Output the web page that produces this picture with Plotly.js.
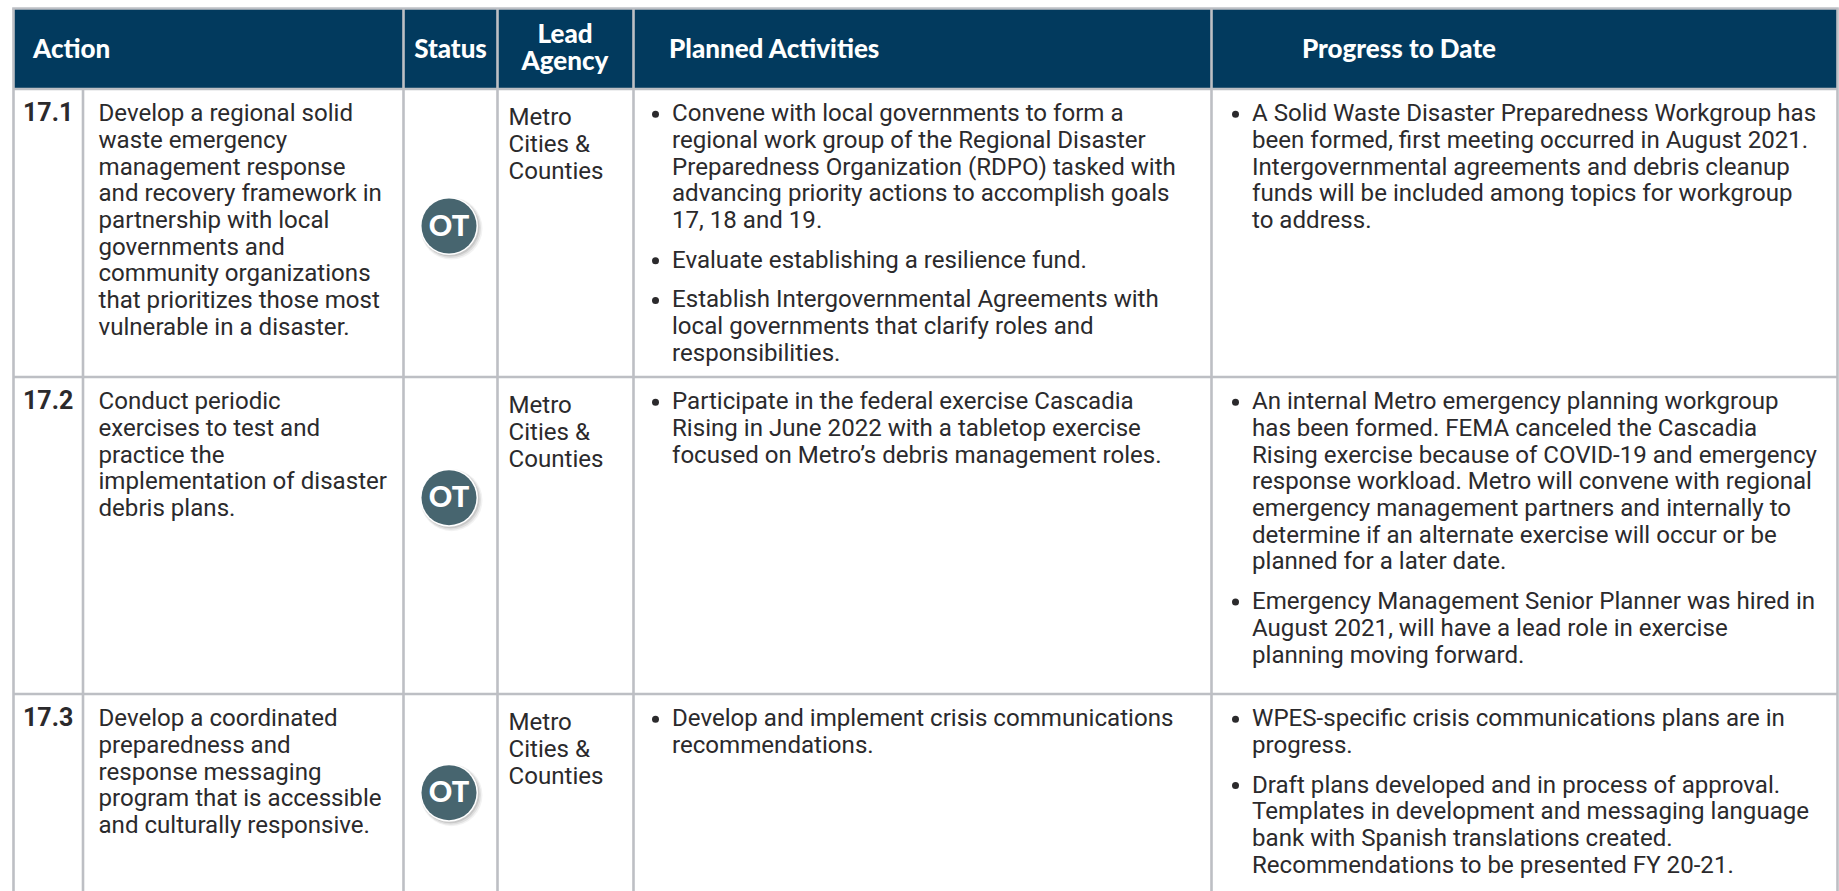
<!DOCTYPE html>
<html>
<head>
<meta charset="utf-8">
<script src="https://cdn.plot.ly/plotly-3.0.1.min.js"></script>
<style>html,body{margin:0;padding:0;background:#fff;overflow:hidden}#chart{width:1839px;height:891px}</style>
</head>
<body>
<div id="chart"></div>
<script>
// ---- table content ----
const actionIds = ['17.1', '17.2', '17.3'];
const statusCodes = ['OT', 'OT', 'OT'];
const headerAction = 'Action';
const headerStatus = 'Status';
const headerLead = ['Lead', 'Agency'];
const headerPlanned = 'Planned Activities';
const headerProgress = 'Progress to Date';
const leadAgencyLines = ['Metro', 'Cities &', 'Counties'];
const actionLines = [
  ['Develop a regional solid', 'waste emergency', 'management response', 'and recovery framework in', 'partnership with local', 'governments and', 'community organizations', 'that prioritizes those most', 'vulnerable in a disaster.'],
  ['Conduct periodic', 'exercises to test and', 'practice the', 'implementation of disaster', 'debris plans.'],
  ['Develop a coordinated', 'preparedness and', 'response messaging', 'program that is accessible', 'and culturally responsive.']
];
const plannedBullets = [
  [
    ['Convene with local governments to form a', 'regional work group of the Regional Disaster', 'Preparedness Organization (RDPO) tasked with', 'advancing priority actions to accomplish goals', '17, 18 and 19.'],
    ['Evaluate establishing a resilience fund.'],
    ['Establish Intergovernmental Agreements with', 'local governments that clarify roles and', 'responsibilities.']
  ],
  [
    ['Participate in the federal exercise Cascadia', 'Rising in June 2022 with a tabletop exercise', 'focused on Metro\u2019s debris management roles.']
  ],
  [
    ['Develop and implement crisis communications', 'recommendations.']
  ]
];
const progressBullets = [
  [
    ['A Solid Waste Disaster Preparedness Workgroup has', 'been formed, first meeting occurred in August 2021.', 'Intergovernmental agreements and debris cleanup', 'funds will be included among topics for workgroup', 'to address.']
  ],
  [
    ['An internal Metro emergency planning workgroup', 'has been formed. FEMA canceled the Cascadia', 'Rising exercise because of COVID-19 and emergency', 'response workload. Metro will convene with regional', 'emergency management partners and internally to', 'determine if an alternate exercise will occur or be', 'planned for a later date.'],
    ['Emergency Management Senior Planner was hired in', 'August 2021, will have a lead role in exercise', 'planning moving forward.']
  ],
  [
    ['WPES-specific crisis communications plans are in', 'progress.'],
    ['Draft plans developed and in process of approval.', 'Templates in development and messaging language', 'bank with Spanish translations created.', 'Recommendations to be presented FY 20-21.']
  ]
];

// ---- layout of the table ----
const W = 1839, H = 891;
const colX = {left: 13.5, id: 83, status: 403.5, lead: 497.5, planned: 633.5, progress: 1211.5, right: 1837.5};
const tableTop = 8.5, headBottom = 89, rowTops = [89, 377, 694];
const badgeY = [226, 497.7, 792.7], badgeX = 449;
const lineH = 26.7, paraGap = 13, firstOffset = 23.7, leadOffset = 27.7, textDy = 2.5;
const navy = '#023a5e', grid = '#bdbfc4', ink = '#2b2a2c', badge = '#47656f';
const bodyFont = 'Roboto', headFont = 'Lato';
const bodySize = 24.1, headSize = 26;

function textTrace(pts, font, pos) {
  return {type: 'scatter', mode: 'text', x: pts.map(p => p[0]), y: pts.map(p => p[1] + textDy), text: pts.map(p => p[2]),
    textposition: pos || 'middle right', textfont: font, hoverinfo: 'skip', showlegend: false, cliponaxis: false};
}
const bodyPts = [], idPts = [], bulletPts = [], headLeft = [], headCenter = [], badgeText = [];
rowTops.forEach((t, r) => {
  idPts.push([23, t + firstOffset, actionIds[r]]);
  actionLines[r].forEach((s, i) => bodyPts.push([98.5, t + firstOffset + i * lineH, s]));
  leadAgencyLines.forEach((s, i) => bodyPts.push([508.5, t + leadOffset + i * lineH, s]));
  [[plannedBullets[r], 655.5, 672], [progressBullets[r], 1235.5, 1252]].forEach(([paras, bx, tx]) => {
    let y = t + firstOffset;
    paras.forEach(lines => {
      bulletPts.push([bx, y]);
      lines.forEach(s => { bodyPts.push([tx, y, s]); y += lineH; });
      y += paraGap;
    });
  });
  badgeText.push([badgeX, badgeY[r], statusCodes[r]]);
});
headLeft.push([33, 48.5, headerAction], [669, 48.5, headerPlanned], [1302, 48.5, headerProgress]);
headCenter.push([450.5, 48.5, headerStatus], [565, 34, headerLead[0]], [565, 60.5, headerLead[1]]);

const marker = (dx, dy, size, color) => ({type: 'scatter', mode: 'markers', x: badgeY.map(() => badgeX + dx), y: badgeY.map(v => v + dy),
  marker: {size, color, line: {width: 0}}, hoverinfo: 'skip', showlegend: false, cliponaxis: false});

const traces = [
  marker(2.5, 2.5, 62, 'rgba(0,0,0,0.05)'),
  marker(2, 2, 60, 'rgba(0,0,0,0.08)'),
  marker(1.5, 1.5, 58, 'rgba(0,0,0,0.10)'),
  marker(0, 0, 58, '#ffffff'),
  marker(0, 0, 55, badge),
  {type: 'scatter', mode: 'markers', x: bulletPts.map(p => p[0]), y: bulletPts.map(p => p[1] + 1.5), marker: {size: 7, color: ink}, hoverinfo: 'skip', showlegend: false},
  textTrace(bodyPts, {family: bodyFont, size: bodySize, color: ink}),
  textTrace(idPts, {family: bodyFont, size: 25, color: ink, weight: 700}),
  textTrace(headLeft, {family: headFont, size: headSize, color: '#ffffff', weight: 900}),
  textTrace(headCenter, {family: headFont, size: headSize, color: '#ffffff', weight: 900}, 'middle center'),
  textTrace(badgeText, {family: headFont, size: 29, color: '#ffffff', weight: 900}, 'middle center')
];

const vline = (x, y0, y1) => ({type: 'line', xref: 'x', yref: 'y', x0: x, x1: x, y0, y1, line: {color: grid, width: 2.6}, layer: 'above'});
const hline = (y, x0, x1) => ({type: 'line', xref: 'x', yref: 'y', x0, x1, y0: y, y1: y, line: {color: grid, width: 2.6}, layer: 'above'});
const shapes = [
  {type: 'rect', xref: 'x', yref: 'y', x0: colX.left, x1: colX.right, y0: tableTop, y1: headBottom, fillcolor: navy, line: {width: 0}, layer: 'below'},
  hline(tableTop, colX.left - 1.3, colX.right + 1.3), hline(headBottom, colX.left, colX.right),
  hline(rowTops[1], colX.left, colX.right), hline(rowTops[2], colX.left, colX.right),
  vline(colX.left, tableTop, H), vline(colX.id, headBottom, H), vline(colX.status, tableTop, H), vline(colX.lead, tableTop, H),
  vline(colX.planned, tableTop, H), vline(colX.progress, tableTop, H), vline(colX.right, tableTop, H)
];

Plotly.newPlot('chart', traces, {
  width: W, height: H, margin: {l: 0, r: 0, t: 0, b: 0},
  paper_bgcolor: '#ffffff', plot_bgcolor: '#ffffff', showlegend: false, hovermode: false,
  xaxis: {range: [0, W], visible: false, fixedrange: true},
  yaxis: {range: [H, 0], visible: false, fixedrange: true},
  shapes
}, {displayModeBar: false, staticPlot: true});
</script>
</body>
</html>
